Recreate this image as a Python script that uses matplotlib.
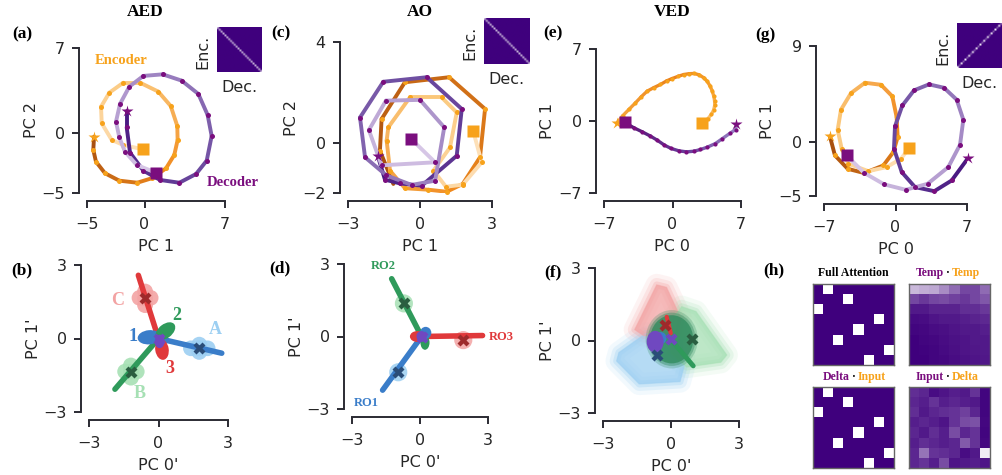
import numpy as np
import matplotlib
matplotlib.use("Agg")
import matplotlib.pyplot as plt
from matplotlib.collections import LineCollection
from matplotlib.colors import LinearSegmentedColormap
from matplotlib.patches import Ellipse, Polygon

W, H = 1002, 475

# ---------------- data ----------------
# (a) AED: encoder / decoder latent trajectories (start -> end)
aed_enc_x = [-4.39, -4.45, -4.22, -3.43, -2.19, -0.63, 0.63, 1.87, 2.59, 2.88, 2.85, 2.28, 1.20,
             -0.39, -1.84, -3.06, -3.78, -3.72, -2.85, -1.84, -0.16]
aed_enc_y = [-0.34, -1.44, -2.41, -3.37, -3.98, -4.15, -3.78, -2.96, -1.85, -0.61, 0.55, 2.20, 3.39,
             4.13, 4.13, 3.30, 2.14, 0.77, -0.61, -1.03, -1.38]
aed_dec_x = [-1.55, -1.55, -1.26, -0.10, 1.35, 3.03, 4.48, 5.41, 5.84, 5.49, 4.68, 3.23, 1.58,
             -0.10, -1.32, -2.13, -2.48, -2.19, -1.70, -0.68, 1.00]
aed_dec_y = [1.79, 0.44, -1.66, -3.15, -3.92, -4.15, -3.43, -2.32, -0.28, 1.46, 3.20, 4.30, 4.82,
             4.69, 3.80, 2.37, 0.90, -0.39, -1.58, -2.68, -3.32]

# (c) AO
ao_enc_x = [-1.11, -1.67, -1.60, -0.63, 1.21, 2.71, 2.50, 1.78, 1.11, 0.35, -0.63, -1.25, -1.39,
            -1.32, -0.42, 0.90, 1.53, 1.25, 0.56, 1.08, 1.78, 2.57, 2.22]
ao_enc_y = [-1.64, -0.32, 0.94, 2.40, 2.60, 1.34, -0.58, -1.64, -1.95, -1.87, -1.81, -1.11, 0.08,
            0.61, 1.80, 1.80, 1.20, -0.19, -1.11, -1.75, -1.67, -0.78, 0.45]
ao_dec_x = [-1.76, -1.46, -0.83, 0.07, 1.53, 1.74, 0.28, -1.53, -2.50, -2.29, -1.40, -0.35, 0.63,
            1.01, 0.00, -1.42, -2.13, -1.60, 0.63, -0.38]
ao_dec_y = [-0.52, -1.47, -1.62, -1.71, -0.52, 1.34, 2.60, 2.42, 1.00, -0.58, -1.30, -1.68, -1.51,
            0.61, 1.70, 1.67, 0.50, -0.90, -0.78, 0.16]

# (e) VED
ved_enc_x = [-5.72, -5.10, -4.46, -3.80, -3.20, -2.59, -1.90, -1.23, -0.60, -0.03, 0.60, 1.16, 1.70,
             2.18, 2.70, 3.20, 3.55, 3.81, 4.05, 4.22, 4.30, 4.32, 4.22, 3.98, 3.60, 3.03]
ved_enc_y = [-0.24, 0.50, 1.12, 1.75, 2.35, 2.90, 3.25, 3.55, 3.90, 4.13, 4.35, 4.52, 4.60,
             4.62, 4.50, 4.20, 3.85, 3.45, 2.95, 2.41, 1.98, 1.55, 1.10, 0.66, 0.20, -0.24]
ved_dec_x = [6.54, 6.44, 5.85, 5.07, 4.39, 3.54, 2.86, 2.18, 1.43, 0.65, -0.14, -0.82, -1.57,
             -2.25, -3.10, -3.95, -4.90]
ved_dec_y = [-0.34, -0.83, -1.21, -1.73, -2.19, -2.55, -2.77, -2.94, -3.00, -2.90, -2.67, -2.35,
             -1.86, -1.47, -1.05, -0.66, -0.13]

# (g)
g_enc_x = [-6.42, -5.93, -4.68, -3.06, -1.19, -0.21, 0.21, 0.11, -0.31, -1.42, -2.99, -4.36, -5.34,
           -5.66, -5.27, -4.62, -2.66, -0.86, 0.54, 1.35]
g_enc_y = [0.56, -1.21, -2.46, -2.86, -2.15, -0.90, 0.50, 2.37, 4.30, 5.38, 5.57, 4.60, 3.05,
           1.18, -0.59, -1.99, -2.68, -2.30, -1.52, -0.50]
g_dec_x = [7.13, 5.50, 3.80, 1.91, 0.61, -0.15, -0.05, 0.67, 1.81, 3.28, 4.75, 5.99, 6.64, 6.32,
           5.17, 3.15, 1.00, -1.10, -3.09, -4.78]
g_dec_y = [-1.43, -3.55, -4.55, -4.17, -2.77, -0.59, 1.49, 3.45, 4.86, 5.42, 5.10, 3.99, 2.12,
           -0.21, -2.30, -3.86, -4.42, -3.92, -2.83, -1.21]

# (b) AED readout arms: C (red), A (blue), B (green)
b_end_x = [-0.87, 2.73, -1.88]
b_end_y = [2.58, -0.60, -2.07]
b_cross_x = [-0.58, 1.76, -1.19]
b_cross_y = [1.64, -0.40, -1.35]
b_letters = ["C", "A", "B"]
b_letter_x = [-1.75, 2.44, -0.80]
b_letter_y = [1.57, 0.35, -2.24]

# (d) AO readout arms: RO1 (blue), RO2 (green), RO3 (red)
d_end_x = [-1.65, -1.25, 2.76]
d_end_y = [-2.22, 2.39, 0.04]
d_cross_x = [-0.96, -0.71, 1.91]
d_cross_y = [-1.48, 1.37, -0.15]
d_names = ["RO1", "RO2", "RO3"]
d_name_x = [-2.35, -1.62, 3.05]
d_name_y = [-2.74, 2.91, 0.0]

# (f) VED readout clusters
f_cross_x = [-0.26, 0.91, -0.63, -0.01]
f_cross_y = [0.64, 0.05, -0.60, 0.05]

# (h) attention maps
perm = [1, 3, 0, 6, 4, 2, 7, 5]
temp_temp = np.array([
    [0.72, 0.68, 0.66, 0.55, 0.42, 0.28, 0.28, 0.42],
    [0.28, 0.22, 0.28, 0.30, 0.26, 0.22, 0.28, 0.34],
    [0.10, 0.10, 0.14, 0.14, 0.14, 0.18, 0.18, 0.22],
    [0.04, 0.05, 0.08, 0.10, 0.10, 0.12, 0.14, 0.16],
    [0.02, 0.03, 0.05, 0.06, 0.08, 0.10, 0.10, 0.12],
    [0.00, 0.02, 0.03, 0.05, 0.07, 0.08, 0.10, 0.10],
    [0.00, 0.01, 0.02, 0.04, 0.06, 0.08, 0.09, 0.10],
    [0.00, 0.00, 0.02, 0.03, 0.05, 0.07, 0.08, 0.09]])
input_delta = np.array([
    [0.18, 0.15, 0.05, 0.08, 0.12, 0.10, 0.20, 0.02],
    [0.15, 0.12, 0.20, 0.12, 0.15, 0.12, 0.10, 0.02],
    [0.18, 0.10, 0.15, 0.18, 0.20, 0.25, 0.15, 0.02],
    [0.12, 0.15, 0.12, 0.08, 0.20, 0.30, 0.32, 0.03],
    [0.15, 0.10, 0.18, 0.12, 0.30, 0.15, 0.20, 0.02],
    [0.12, 0.18, 0.15, 0.12, 0.15, 0.35, 0.20, 0.03],
    [0.15, 0.45, 0.20, 0.18, 0.15, 0.05, 0.10, 0.92],
    [0.15, 0.20, 0.12, 0.30, 0.08, 0.10, 0.12, 0.08]])

# ---------------- style ----------------
plt.rcParams["font.family"] = "DejaVu Sans"
SERIF = "Liberation Serif"
ORANGE = "#f7a21b"
PURPLE = "#7a0e7e"
RED, BLUE, GREEN = "#e0393b", "#3a7dc9", "#2f9a5b"
DRED, DBLUE, DGREEN = "#9e2a2b", "#2a4d78", "#2a5e40"
LRED, LBLUE, LGREEN = "#f3a3a3", "#9ccff2", "#a6e0b4"
VIOLET = "#7048c0"
INK = "#2b2b33"

attn_cmap = LinearSegmentedColormap.from_list("attn", ["#3f007d", "#ffffff"])
enc_cmap = LinearSegmentedColormap.from_list("enc", ["#a9500f", "#f0891d", "#fbc77a", "#fde0b8"])
dec_cmap = LinearSegmentedColormap.from_list("dec", ["#4a1a82", "#6f4fa2", "#a58bc6", "#d6c6e6"])
ved_enc_cmap = LinearSegmentedColormap.from_list("venc", ["#f6a540", "#e9801c", "#f59a30", "#fcc474"])
ved_dec_cmap = LinearSegmentedColormap.from_list("vdec", ["#9b86c6", "#6a3d9a", "#5a1a7a"])

fig = plt.figure(figsize=(W / 100, H / 100), dpi=100)


def add_ax(x0, x1, y0, y1):
    return fig.add_axes([x0 / W, 1 - y1 / H, (x1 - x0) / W, (y1 - y0) / H])


def ftext(x, y, s, **kw):
    fig.text(x / W, 1 - y / H, s, **kw)


def pc_axes(ax, xt, yt, xlabel, ylabel):
    ax.set_xlim(xt[0], xt[-1])
    ax.set_ylim(yt[0], yt[-1])
    ax.set_xticks(xt)
    ax.set_yticks(yt)
    for s in ["top", "right"]:
        ax.spines[s].set_visible(False)
    for s in ["left", "bottom"]:
        ax.spines[s].set_position(("outward", 6))
        ax.spines[s].set_linewidth(1.4)
        ax.spines[s].set_color(INK)
    ax.tick_params(labelsize=11.5, length=5, width=1.4, color=INK, labelcolor="#262626")
    ax.tick_params(axis="x", pad=6)
    ax.tick_params(axis="y", pad=5)
    ax.set_xlabel(xlabel, fontsize=11.5, color="#262626", labelpad=5)
    ax.set_ylabel(ylabel, fontsize=11.5, color="#262626", labelpad=2)
    ax.patch.set_alpha(0)


def trajectory(ax, xs, ys, cmap, color, lw=2.8, ms=3.6, star=True, square=True, z=2):
    pts = np.column_stack([xs, ys])
    segs = np.stack([pts[:-1], pts[1:]], axis=1)
    cols = cmap(np.linspace(0, 1, len(segs)))
    ax.add_collection(LineCollection(segs, colors=cols, linewidths=lw, capstyle="round",
                                     joinstyle="round", zorder=z))
    ax.plot(xs[1:-1], ys[1:-1], "o", ms=ms, color=color, mec="none", zorder=z + 0.5, clip_on=False)
    if star:
        ax.plot(xs[0], ys[0], "*", ms=9, color=color, mec="none", zorder=z + 1, clip_on=False)
    if square:
        ax.plot(xs[-1], ys[-1], "s", ms=8.5, color=color, mec="none", zorder=z + 1, clip_on=False)


def attn_inset(x0, y0, size, flip=False, dotted=False):
    n = 24
    m = np.eye(n) * 0.72
    if dotted:
        m = np.eye(n) * np.where(np.arange(n) % 2 == 0, 1.0, 0.35)
    ax = add_ax(x0, x0 + size, y0, y0 + size)
    ax.imshow(m, cmap=attn_cmap, vmin=0, vmax=1, origin="lower" if flip else "upper",
              interpolation="bilinear", aspect="auto")
    ax.set_xticks([])
    ax.set_yticks([])
    for s in ax.spines.values():
        s.set_visible(False)
    ftext(x0 - 14, y0 + size / 2 + 2, "Enc.", rotation=90, ha="center", va="center", fontsize=11.5,
          color="#262626")
    ftext(x0 + 4, y0 + size + 16, "Dec.", ha="left", va="center", fontsize=11.5, color="#262626")


# ---------------- top row ----------------
ax_a = add_ax(87, 225, 48, 193)
pc_axes(ax_a, [-5, 0, 7], [-5, 0, 7], "PC 1", "PC 2")
trajectory(ax_a, aed_enc_x, aed_enc_y, enc_cmap, ORANGE, z=2)
trajectory(ax_a, aed_dec_x, aed_dec_y, dec_cmap, PURPLE, z=4)
ax_a.text(-2.05, 6.0, "Encoder", color=ORANGE, fontsize=10.5, fontweight="bold", family=SERIF,
          ha="center", va="center")
ax_a.text(5.4, -4.15, "Decoder", color=PURPLE, fontsize=10.5, fontweight="bold", family=SERIF,
          ha="left", va="center", clip_on=False)

ax_c = add_ax(348, 492, 42, 193)
pc_axes(ax_c, [-3, 0, 3], [-2, 0, 4], "PC 1", "PC 2")
trajectory(ax_c, ao_enc_x, ao_enc_y, enc_cmap, ORANGE, star=False, z=2)
trajectory(ax_c, ao_dec_x, ao_dec_y, dec_cmap, PURPLE, z=4)

ax_e = add_ax(604, 741, 49, 193)
pc_axes(ax_e, [-7, 0, 7], [-7, 0, 7], "PC 0", "PC 1")
trajectory(ax_e, ved_enc_x, ved_enc_y, ved_enc_cmap, ORANGE, lw=2.4, ms=3.0, z=2)
trajectory(ax_e, ved_dec_x, ved_dec_y, ved_dec_cmap, PURPLE, lw=2.4, ms=3.0, z=4)

ax_g = add_ax(824, 967, 46, 196)
pc_axes(ax_g, [-7, 0, 7], [-5, 0, 9], "PC 0", "PC 1")
trajectory(ax_g, g_enc_x, g_enc_y, enc_cmap, ORANGE, z=2)
trajectory(ax_g, g_dec_x, g_dec_y, dec_cmap, PURPLE, z=4)

attn_inset(217, 27, 45)
attn_inset(484, 18, 46)
attn_inset(957, 23, 45, flip=True, dotted=True)


# ---------------- bottom row ----------------
def blob(ax, x, y, w, h, color, alpha=1.0, angle=0, z=2):
    ax.add_patch(Ellipse((x, y), w, h, angle=angle, color=color, alpha=alpha, lw=0, zorder=z))


# (b)
ax_b = add_ax(89, 228, 265, 412)
pc_axes(ax_b, [-3, 0, 3], [-3, 0, 3], "PC 0'", "PC 1'")
arm_col = [RED, BLUE, GREEN]
arm_dark = [DRED, DBLUE, DGREEN]
arm_light = [LRED, LBLUE, LGREEN]
cloud_dx = [[0, 0, -0.24, 0.24, 0], [-0.36, 0.36, 0, 0, 0], [-0.25, 0.25, 0, 0, 0]]
cloud_dy = [[0.28, -0.28, 0.02, 0.02, 0], [0, 0, 0.15, -0.15, 0], [0, 0, 0.25, -0.25, 0]]
for i in range(3):
    for dx, dy in zip(cloud_dx[i], cloud_dy[i]):
        blob(ax_b, b_cross_x[i] + dx, b_cross_y[i] + dy, 0.68, 0.64, arm_light[i], 0.9, z=1)
    ax_b.plot([0, b_end_x[i]], [0, b_end_y[i]], color=arm_col[i], lw=4, solid_capstyle="round",
              zorder=2)
blob(ax_b, -0.40, 0.05, 1.0, 0.58, BLUE, angle=5, z=3)
blob(ax_b, 0.30, 0.30, 0.95, 0.58, GREEN, angle=35, z=3)
blob(ax_b, 0.15, -0.45, 0.58, 0.85, RED, angle=10, z=3)
blob(ax_b, 0.05, -0.12, 0.42, 0.55, VIOLET, z=3.5)
for i in range(3):
    ax_b.plot(b_cross_x[i], b_cross_y[i], "X", ms=9, color=arm_dark[i], mec="none", zorder=5)
    ax_b.text(b_letter_x[i], b_letter_y[i], b_letters[i], color=arm_light[i], fontsize=13,
              fontweight="bold", family=SERIF, ha="center", va="center")
ax_b.plot(0, 0, "X", ms=9, color=VIOLET, mec="none", zorder=5)
for s, x, y, c in [("1", -1.1, 0.07, BLUE), ("2", 0.8, 0.92, GREEN), ("3", 0.5, -1.22, RED)]:
    ax_b.text(x, y, s, color=c, fontsize=13, fontweight="bold", family=SERIF, ha="center",
              va="center")

# (d)
ax_d = add_ax(352, 488, 264, 409)
pc_axes(ax_d, [-3, 0, 3], [-3, 0, 3], "PC 0'", "PC 1'")
d_col = [BLUE, GREEN, RED]
d_dark = [DBLUE, DGREEN, DRED]
d_light = [LBLUE, LGREEN, LRED]
for i in range(3):
    blob(ax_d, d_cross_x[i], d_cross_y[i], 0.8, 0.75, d_light[i], 0.85, z=1)
    ax_d.plot([0.07, d_end_x[i]], [0.0, d_end_y[i]], color=d_col[i], lw=4, solid_capstyle="round",
              zorder=2)
    ax_d.plot(d_cross_x[i], d_cross_y[i], "X", ms=9, color=d_dark[i], mec="none", zorder=5)
    ax_d.text(d_name_x[i], d_name_y[i], d_names[i], color=d_col[i], fontsize=9, fontweight="bold",
              family=SERIF, ha="left" if i == 2 else "center", va="center", clip_on=False)
blob(ax_d, -0.12, 0.0, 0.65, 0.45, RED, z=3)
blob(ax_d, 0.22, -0.25, 0.4, 0.6, GREEN, z=3)
blob(ax_d, 0.25, 0.15, 0.5, 0.5, BLUE, z=3)
blob(ax_d, 0.07, 0.0, 0.45, 0.45, VIOLET, z=3.5)
ax_d.plot(0.07, 0.0, "X", ms=9, color=VIOLET, mec="none", zorder=5)

# (f)
ax_f = add_ax(603, 739, 268, 413)
pc_axes(ax_f, [-3, 0, 3], [-3, 0, 3], "PC 0'", "PC 1'")
f_clouds = [
    (LBLUE, [(-1.1, 0.3), (-2.3, -0.5), (-2.4, -0.85), (-1.4, -1.8), (0.4, -1.7), (0.6, -1.0),
             (0.5, 0.0)]),
    (LRED, [(-0.63, 2.3), (-0.2, 2.2), (0.45, 0.9), (0.3, 0.3), (-1.2, 0.2), (-1.6, 0.45)]),
    (LGREEN, [(0.47, 1.4), (1.1, 1.2), (2.46, -0.6), (2.2, -0.9), (0.69, -1.1), (0.0, -0.5),
              (0.1, 0.9)]),
]
for col, verts in f_clouds:
    for k, (lw, a) in enumerate([(16, 0.12), (10, 0.2), (5, 0.3), (1, 0.45)]):
        ax_f.add_patch(Polygon(verts, closed=True, fc=col, ec=col, lw=lw, alpha=a,
                               joinstyle="round", zorder=1 + k * 0.1))
for k, (w, a) in enumerate([(2.3, 0.25), (2.1, 0.4), (1.9, 0.75)]):
    blob(ax_f, 0.03, 0.05, w, w * 1.05, "#2e8a5c", a, z=2 + k * 0.05)
blob(ax_f, -0.45, 0.1, 0.5, 0.5, BLUE, z=2.5)
blob(ax_f, -0.7, -0.05, 0.75, 0.9, VIOLET, z=2.6)
ax_f.plot([-0.19, -0.01], [0.98, 0.3], color=RED, lw=3, solid_capstyle="round", zorder=3)
ax_f.plot([-0.01, 0.98], [0.05, -1.05], color=GREEN, lw=3.5, solid_capstyle="round", zorder=3)
for x, y, c in zip(f_cross_x, f_cross_y, [DRED, DGREEN, DBLUE, VIOLET]):
    ax_f.plot(x, y, "X", ms=9, color=c, mec="none", zorder=5)

# (h)
full_attn = np.zeros((8, 8))
full_attn[np.arange(8), perm] = 1.0
maps = [(813, 284, full_attn), (909, 284, temp_temp), (813, 387, full_attn),
        (909, 387, input_delta)]
for x0, y0, m in maps:
    ax = add_ax(x0, x0 + 81, y0, y0 + 81)
    ax.imshow(m, cmap=attn_cmap, vmin=0, vmax=1, interpolation="nearest", aspect="auto")
    ax.set_xticks([])
    ax.set_yticks([])
    for s in ax.spines.values():
        s.set_color("#666666")
        s.set_linewidth(1.0)

ftext(853, 273, "Full Attention", fontsize=8.5, fontweight="bold", family=SERIF, ha="center",
      va="center")
for cx, cy, left, right in [(948, 273, "Temp", "Temp"), (854, 377, "Delta", "Input"),
                            (948, 377, "Input", "Delta")]:
    ftext(cx - 4, cy, left, fontsize=8.5, fontweight="bold", family=SERIF, color=PURPLE,
          ha="right", va="center")
    ftext(cx, cy, "\u00b7", fontsize=8.5, fontweight="bold", family=SERIF, ha="center",
          va="center")
    ftext(cx + 4, cy, right, fontsize=8.5, fontweight="bold", family=SERIF, color=ORANGE,
          ha="left", va="center")

# ---------------- titles and panel tags ----------------
for x, s in [(145, "AED"), (420, "AO"), (672, "VED")]:
    ftext(x, 12, s, fontsize=12.5, fontweight="bold", family=SERIF, ha="center", va="center")
for x, y, s in [(22, 34, "(a)"), (281, 33, "(c)"), (553, 33, "(e)"), (765, 35, "(g)"),
                (22, 270, "(b)"), (280, 268, "(d)"), (553, 272, "(f)"), (774, 270, "(h)")]:
    ftext(x, y, s, fontsize=12.5, fontweight="bold", family=SERIF, ha="center", va="center")

fig.savefig("out.png", dpi=100)
